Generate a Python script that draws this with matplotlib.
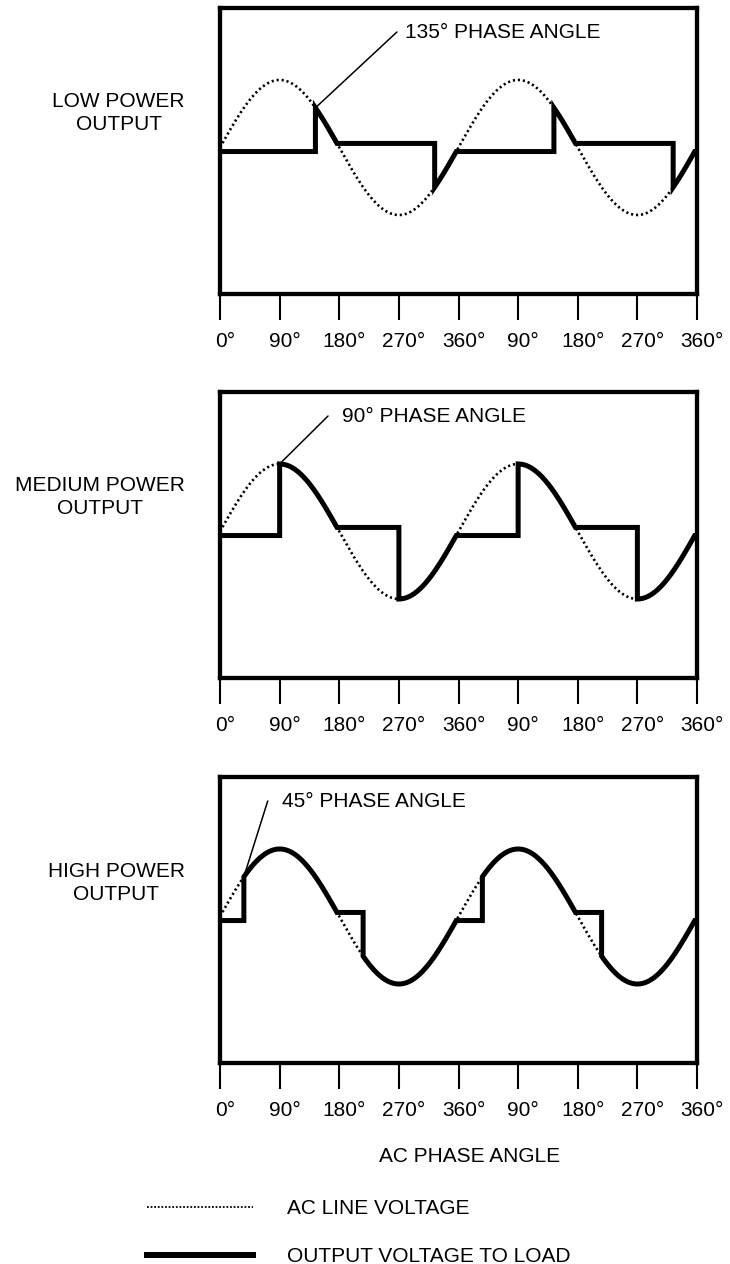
#phase control waveforms: ac line voltage and output voltage for three firing angles
import numpy as np
import matplotlib.pyplot as plt
from matplotlib.lines import Line2D
from matplotlib.transforms import ScaledTranslation

plt.rcParams['font.family'] = ['Liberation Sans', 'DejaVu Sans']

# data
panel_names = ["LOW POWER\nOUTPUT", "MEDIUM POWER\nOUTPUT", "HIGH POWER\nOUTPUT"]
phase_labels = ["135° PHASE ANGLE", "90° PHASE ANGLE", "45° PHASE ANGLE"]
firing_angles = [144, 90, 36]          # where the bold curve jumps (degrees)
flat_level = 0.06                       # small offset of the flat parts
tick_pos = [0, 90, 180, 270, 360, 450, 540, 630, 720]
tick_labels = ["0°", "90°", "180°", "270°", "360°", "90°", "180°", "270°", "360°"]
# where the leader line ends and the label text starts (degrees)
leader_end_x = [267, 163, 72]
label_x = [279, 184, 94]
leader_y = 1.71

fig = plt.figure(figsize=(7.3, 12.64), dpi=100)
bottoms = [0.7674, 0.4636, 0.1590]
label_y = [0.9106, 0.6068, 0.3014]

def output_curve(a, d):
    # bold curve for a firing angle a over two cycles
    e = np.degrees(np.arcsin(d))
    xs, ys = [], []
    for k in range(2):
        o = 360 * k
        xs += [o, o + a]
        ys += [-d, -d]
        t = np.linspace(o + a, o + 180 - e, 80)
        xs += list(t)
        ys += list(np.sin(np.radians(t)))
        xs += [o + 180 + a]
        ys += [d]
        t = np.linspace(o + 180 + a, o + 360 - e, 80)
        xs += list(t)
        ys += list(np.sin(np.radians(t)))
    xs += [720]
    ys += [-d]
    return np.array(xs), np.array(ys)

x = np.linspace(0, 720, 800)
line_v = np.sin(np.radians(x))

for i in range(3):
    ax = fig.add_axes([0.3014, bottoms[i], 0.6534, 0.2265])
    ax.plot(x, line_v, color="black", lw=1.9, linestyle=(0, (0.8, 1.1)))
    ox, oy = output_curve(firing_angles[i], flat_level)
    ax.plot(ox, oy, color="black", lw=3.6, solid_joinstyle="miter",
            solid_capstyle="butt")
    a = firing_angles[i]
    ax.annotate("", xy=(a, np.sin(np.radians(a))), xytext=(leader_end_x[i], leader_y),
                arrowprops=dict(arrowstyle="-", lw=1.1, color="black",
                                shrinkA=0, shrinkB=0))
    ax.text(label_x[i], leader_y, phase_labels[i], fontsize=15, ha="left", va="center")
    ax.set_xlim(0, 720)
    ax.set_ylim(-2.17, 2.07)
    ax.set_yticks([])
    ax.set_xticks(tick_pos)
    ax.set_xticklabels(tick_labels, fontsize=15)
    ax.tick_params(axis="x", direction="out", length=18.5, width=1.5, pad=9)
    for lab in ax.get_xticklabels():
        lab.set_transform(lab.get_transform() + ScaledTranslation(0.05, 0, fig.dpi_scale_trans))
    for s in ax.spines.values():
        s.set_linewidth(3.1)
    fig.text(185 / 730, label_y[i], panel_names[i], fontsize=15, ha="right",
             va="center", multialignment="center", linespacing=1.25)

fig.text(470 / 730, 1 - 1157 / 1264, "AC PHASE ANGLE", fontsize=15, ha="center", va="center")

handles = [Line2D([], [], color="black", lw=1.3, linestyle=(0, (1, 1))),
           Line2D([], [], color="black", lw=4.3)]
fig.legend(handles, ["AC LINE VOLTAGE", "OUTPUT VOLTAGE TO LOAD"], loc="upper left",
           bbox_to_anchor=(147 / 730, 1 - 1199 / 1264), frameon=False, fontsize=15,
           handlelength=5.1, handletextpad=1.6, labelspacing=1.4,
           borderpad=0, borderaxespad=0)

plt.savefig("out.png", dpi=100)
